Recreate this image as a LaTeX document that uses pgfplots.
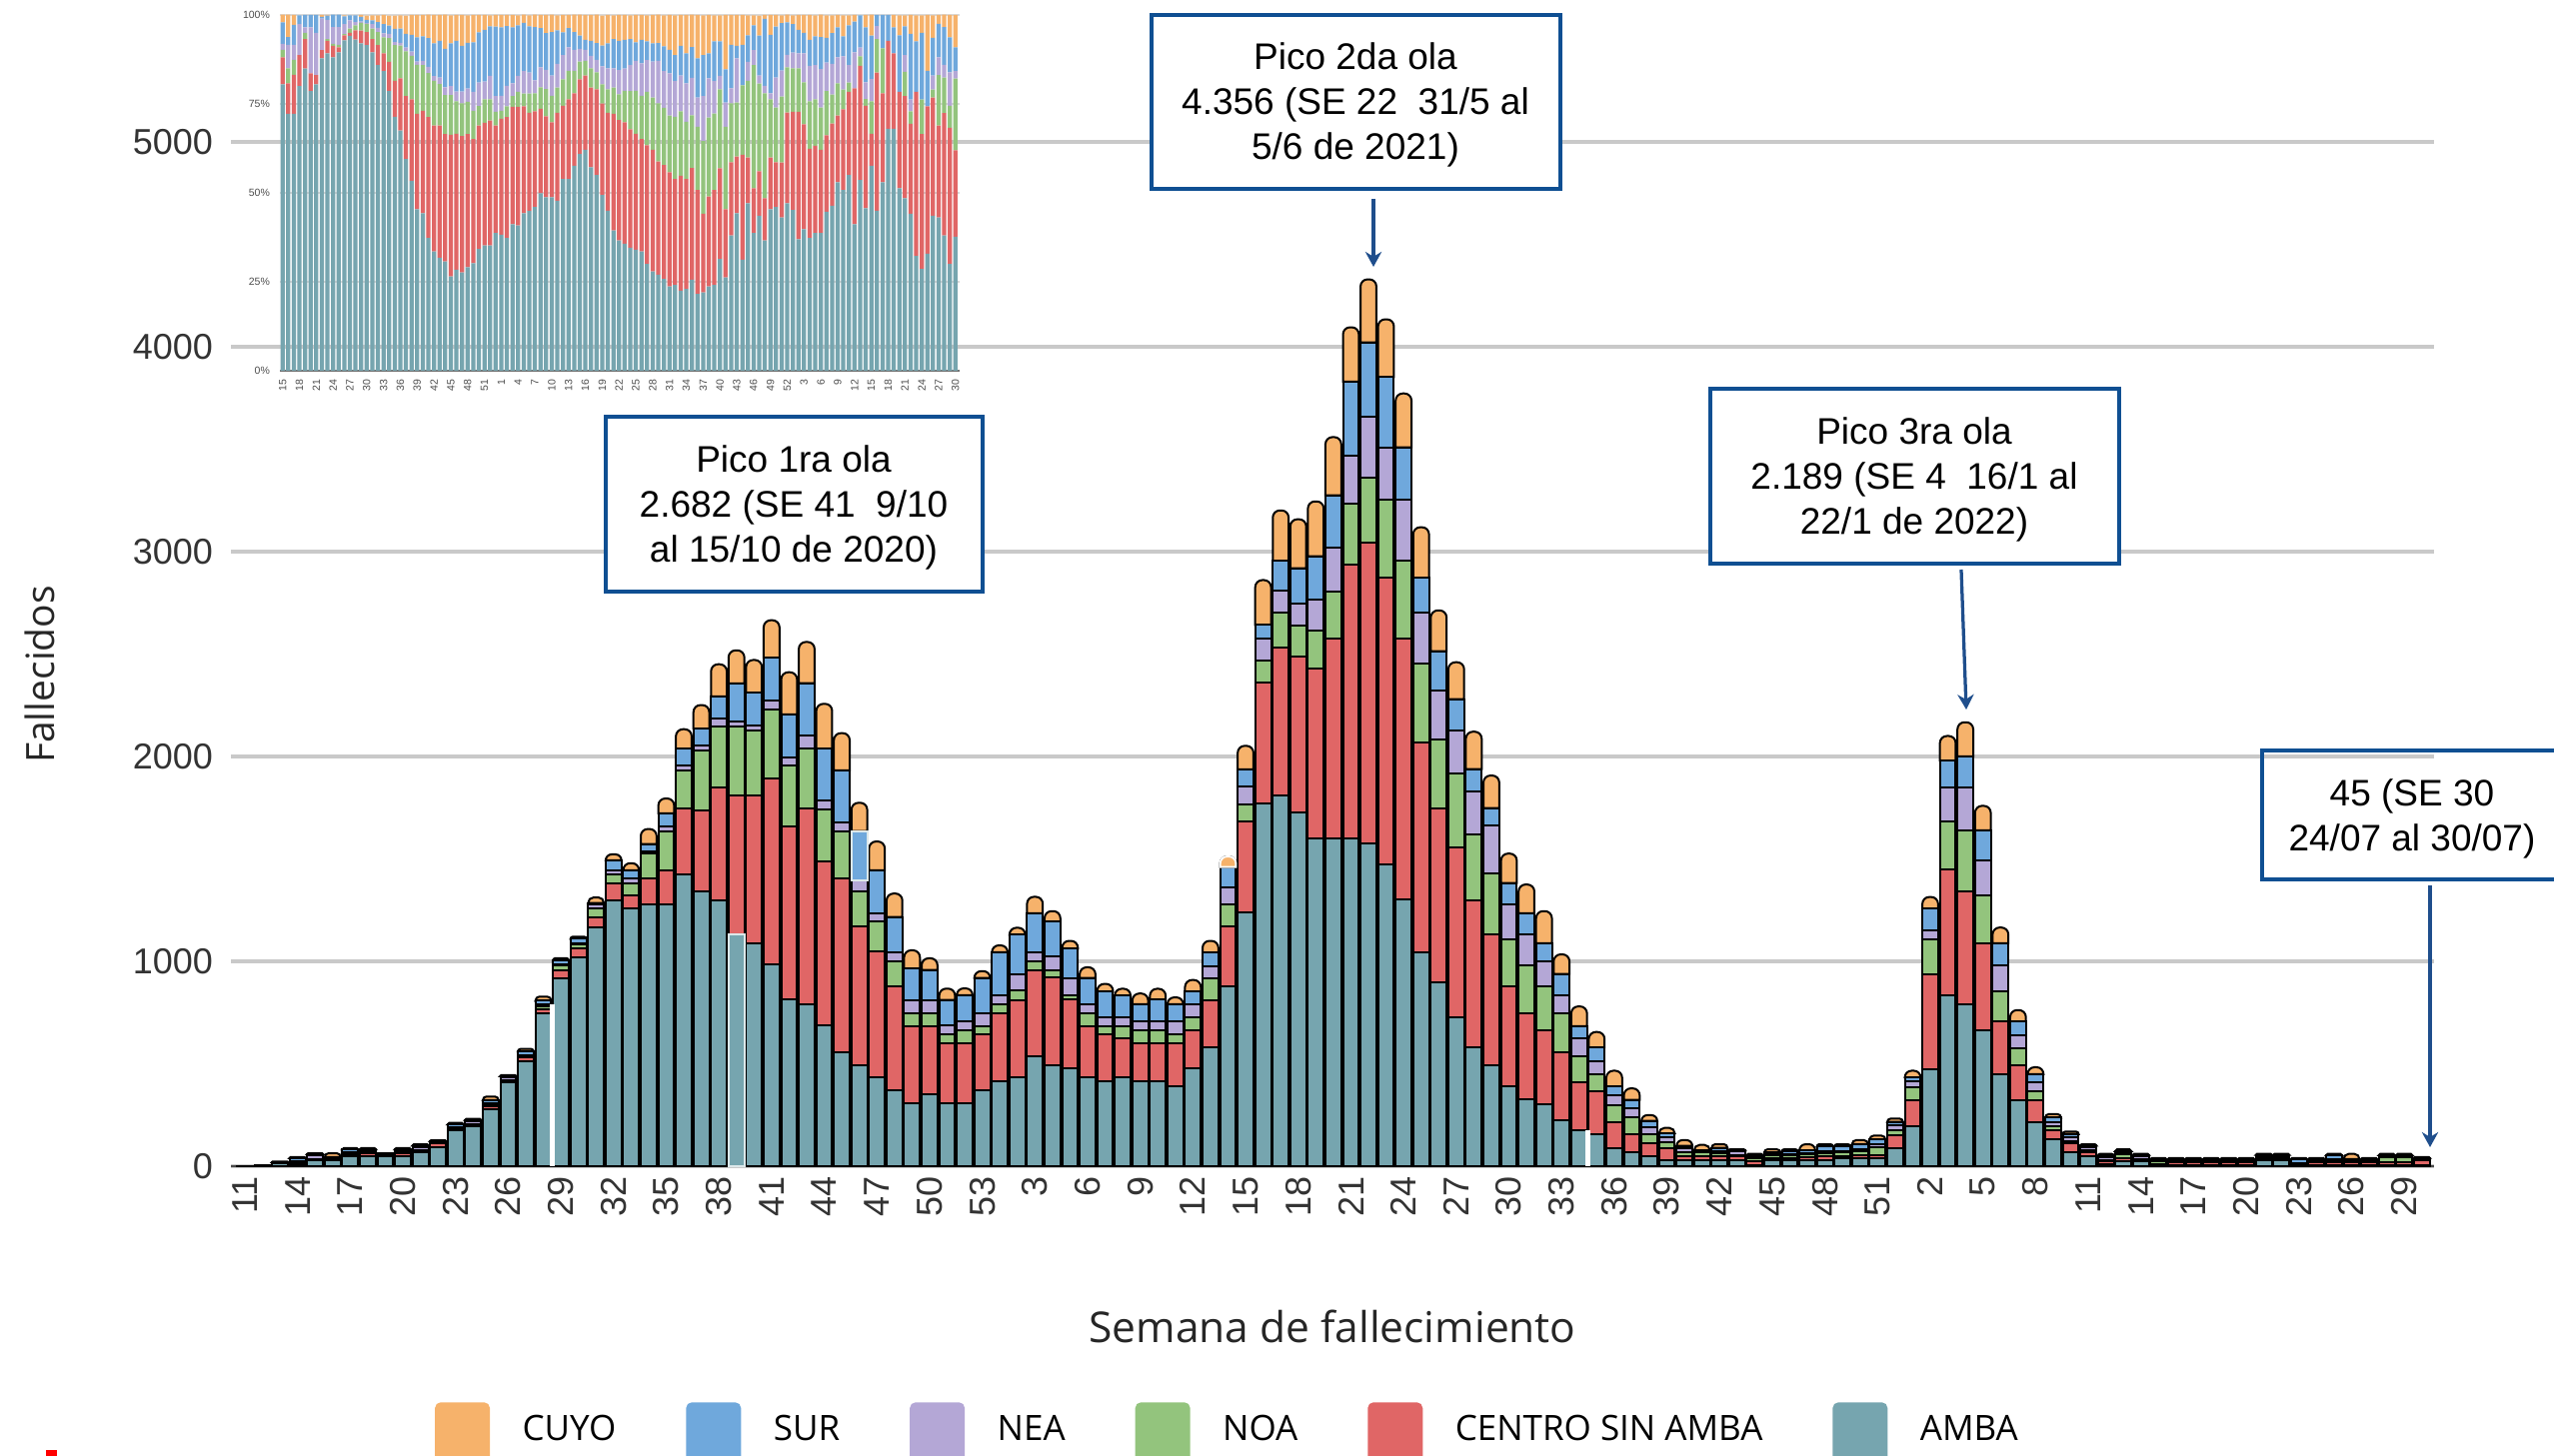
\documentclass[border=0pt]{standalone}
\usepackage{fontspec}
\setmainfont{Liberation Sans}
\newfontfamily\titlefont{Open Sans}
\usepackage{pgfplots}
\usepackage{pgfplotstable}
\pgfplotsset{compat=1.18}
\usetikzlibrary{arrows.meta}
\definecolor{cAMBA}{HTML}{76A5AF}
\definecolor{cCENTRO}{HTML}{E06666}
\definecolor{cNOA}{HTML}{93C47D}
\definecolor{cNEA}{HTML}{B4A7D6}
\definecolor{cSUR}{HTML}{6FA8DC}
\definecolor{cCUYO}{HTML}{F6B26B}
\definecolor{cBox}{HTML}{0F4F92}
\definecolor{cArrow}{HTML}{1F4E8C}
\definecolor{cGrid}{HTML}{C9C9C9}
\definecolor{cLight}{HTML}{DCE8EA}
\makeatletter
\newdimen\RTxl \newdimen\RTxr \newdimen\RTyb \newdimen\RTyt \newdimen\RTr \newdimen\RTk
\newcommand\roundtopbars{\def\pgfpathrectangle##1##2{%
  \pgf@process{##1}\RTxl=\pgf@x \RTyb=\pgf@y
  \pgf@process{##2}\RTxr=\pgf@x \RTyt=\pgf@y
  \advance\RTxr by \RTxl \advance\RTyt by \RTyb
  \ifdim\RTxl>\RTxr \RTk=\RTxl \RTxl=\RTxr \RTxr=\RTk \fi
  \ifdim\RTyb>\RTyt \RTk=\RTyb \RTyb=\RTyt \RTyt=\RTk \fi
  \RTr=2.8pt \RTk=\RTyt \advance\RTk by -\RTyb
  \ifdim\RTk<\RTr \RTr=\RTk \fi
  \RTk=.4477\RTr
  \pgfpathmoveto{\pgfqpoint{\RTxl}{\RTyb}}%
  \pgfpathlineto{\pgfqpoint{\RTxl}{\dimexpr\RTyt-\RTr}}%
  \pgfpathcurveto{\pgfqpoint{\RTxl}{\dimexpr\RTyt-\RTk}}{\pgfqpoint{\dimexpr\RTxl+\RTk}{\RTyt}}{\pgfqpoint{\dimexpr\RTxl+\RTr}{\RTyt}}%
  \pgfpathlineto{\pgfqpoint{\dimexpr\RTxr-\RTr}{\RTyt}}%
  \pgfpathcurveto{\pgfqpoint{\dimexpr\RTxr-\RTk}{\RTyt}}{\pgfqpoint{\RTxr}{\dimexpr\RTyt-\RTk}}{\pgfqpoint{\RTxr}{\dimexpr\RTyt-\RTr}}%
  \pgfpathlineto{\pgfqpoint{\RTxr}{\RTyb}}%
  \pgfpathclose}}
\makeatother
\pgfplotstableread{
i amba centro noa nea sur cuyo
0 2 0 0 0 0 0
1 4 0 0 0 0 0
2 14 4 0 2 0 2
3 10 6 4 4 16 4
4 27 4 4 18 6 4
5 27 5 3 4 6 18
6 50 6 5 6 15 6
7 50 15 5 6 6 6
8 50 3 3 3 2 2
9 50 15 5 5 7 6
10 69 6 4 14 8 6
11 92 18 4 4 4 4
12 178 4 4 4 14 8
13 197 4 4 15 6 5
14 279 12 8 8 15 18
15 409 6 5 15 5 5
16 512 18 6 6 18 12
17 748 18 16 8 18 20
18 916 42 22 6 18 11
19 1021 42 19 6 22 10
20 1168 48 42 19 8 27
21 1298 84 44 19 48 29
22 1258 63 59 27 38 34
23 1277 126 126 8 36 73
24 1277 168 191 23 63 73
25 1426 319 187 25 80 96
26 1340 398 293 25 80 115
27 1298 553 293 42 107 157
28 1130 679 335 29 184 161
29 1088 723 315 23 163 159
30 983 908 338 44 208 184
31 815 845 296 40 210 205
32 792 954 293 65 254 201
33 686 803 252 42 254 220
34 556 847 233 42 254 182
35 495 677 168 57 239 138
36 432 616 145 42 210 140
37 369 507 126 42 172 115
38 308 377 63 63 153 90
39 350 335 63 63 147 57
40 308 294 42 42 126 55
41 308 294 61 44 128 33
42 369 273 42 63 172 33
43 413 335 44 42 210 34
44 432 379 46 82 191 34
45 537 421 44 42 191 80
46 495 425 38 67 168 52
47 476 338 19 86 143 38
48 432 252 63 44 128 52
49 413 229 42 44 124 38
50 432 191 61 44 105 33
51 413 187 61 44 86 52
52 413 187 61 44 109 52
53 388 212 42 63 86 33
54 476 185 67 63 61 57
55 579 231 105 61 67 57
56 876 296 105 82 101 52
57 1238 445 83 86 85 115
58 1770 592 106 109 65 219
59 1809 724 170 108 145 245
60 1727 763 147 109 173 239
61 1601 826 189 152 210 267
62 1601 976 230 214 254 284
63 1601 1334 297 234 364 265
64 1575 1470 315 297 364 308
65 1473 1399 382 255 343 282
66 1304 1273 379 300 253 263
67 1044 1025 384 250 169 247
68 897 851 336 239 191 199
69 728 829 360 211 152 180
70 579 719 320 213 108 182
71 495 635 297 234 87 159
72 390 486 231 170 105 144
73 327 421 233 149 105 140
74 304 358 214 126 86 157
75 222 334 192 86 105 95
76 178 231 128 86 61 96
77 154 212 84 63 67 75
78 90 126 83 47 42 78
79 70 84 83 46 41 56
80 48 62 44 37 30 28
81 27 60 28 25 20 27
82 27 21 22 20 9 28
83 27 21 22 4 3 27
84 27 21 17 9 16 17
85 27 21 6 17 6 5
86 5 20 15 5 8 7
87 27 13 12 5 10 15
88 27 13 12 5 15 10
89 27 15 15 8 12 30
90 27 20 18 10 22 10
91 38 10 18 8 22 11
92 38 15 20 10 25 19
93 38 15 42 10 25 19
94 90 59 25 25 17 16
95 194 127 62 33 17 33
96 471 467 169 42 108 57
97 834 614 234 167 131 120
98 789 552 296 212 151 167
99 662 426 235 168 149 119
100 450 256 148 127 107 77
101 324 168 86 61 67 56
102 216 108 42 42 42 33
103 132 42 20 22 21 17
104 70 40 14 16 17 12
105 48 22 6 18 7 6
106 8 14 6 14 8 10
107 25 15 20 6 8 8
108 25 6 5 14 5 5
109 4 5 14 5 6 6
110 5 15 5 5 5 5
111 5 15 5 5 5 5
112 5 15 5 5 5 5
113 5 15 5 5 5 5
114 5 15 5 5 5 5
115 27 8 5 5 10 5
116 27 5 5 5 13 5
117 3 5 3 4 20 5
118 5 15 5 5 5 5
119 5 15 5 8 20 7
120 5 15 5 5 5 25
121 5 15 5 5 5 5
122 5 15 22 6 6 6
123 5 15 22 6 6 6
124 5 22 5 5 4 4
}\maintable
\pgfplotstableread{
j amba centro noa nea sur cuyo
0 80.5 7.6 2.1 1.7 6.0 2.2
1 72.2 8.6 4.2 6.6 2.2 6.3
2 72.2 11.0 4.2 4.2 5.6 2.8
3 80.0 8.7 0 8.7 2.5 0
4 84.9 8.3 1.8 1.5 3.5 0
5 78.6 5.0 0 12.9 3.5 0
6 80.5 2.6 0 11.9 5.0 0
7 87.8 2.3 0 8.9 0.5 0.5
8 89.2 3.5 0.5 5.4 1.2 0.2
9 88.1 3.2 0.6 4.7 3.5 0
10 89.5 1.4 0.7 5.0 3.5 0
11 92.9 1.4 0.3 2.8 2.2 0.3
12 94.1 0.9 1.2 2.3 1.4 0
13 93.1 2.6 1.4 0.9 1.9 0
14 92.0 3.6 2.2 0.3 1.4 0.5
15 91.5 3.7 2.3 0.2 0.9 1.2
16 89.5 3.7 3.0 1.2 1.1 1.4
17 85.9 5.6 3.7 1.2 1.6 1.9
18 84.2 5.0 4.5 1.1 2.6 2.6
19 78.6 8.2 6.7 1.2 2.3 2.8
20 71.4 10.1 10.0 0.9 3.7 3.7
21 67.5 14.7 9.2 0.8 4.0 3.7
22 59.5 17.7 12.6 1.0 3.9 5.1
23 53.4 22.9 12.2 1.2 4.7 5.6
24 45.4 26.8 13.8 0.9 6.8 6.3
25 44.3 28.8 12.8 1.2 6.9 6.0
26 37.3 34.0 12.4 1.7 8.1 6.6
27 33.5 35.4 12.6 1.3 9.2 8.0
28 31.8 37.1 11.7 1.8 10.3 7.3
29 30.7 35.8 11.0 2.2 10.8 9.6
30 26.5 39.8 11.2 2.5 12.0 7.9
31 28.4 38.2 9.1 2.8 14.2 7.3
32 27.6 38.4 9.2 3.3 12.8 8.7
33 29.1 37.4 9.1 3.7 12.9 7.7
34 30.2 34.9 8.0 5.3 13.9 7.7
35 34.2 34.7 5.5 6.6 14.1 4.9
36 35.2 34.5 6.6 5.0 14.5 4.2
37 35.2 35.1 6.0 6.6 13.9 3.1
38 38.7 30.2 3.9 4.4 19.5 3.3
39 38.2 32.6 2.3 4.2 19.2 3.5
40 37.3 34.0 3.0 5.8 16.8 3.1
41 41.2 33.0 3.0 3.6 15.7 3.5
42 40.8 33.4 4.2 4.5 14.2 2.8
43 44.3 30.0 3.6 6.3 13.6 2.3
44 44.9 27.6 5.4 5.9 13.0 3.1
45 46.0 26.9 5.1 3.6 15.0 3.5
46 49.9 23.7 6.1 5.6 11.0 3.7
47 48.8 22.7 7.7 5.4 10.3 5.1
48 48.8 21.0 7.5 5.7 12.2 4.9
49 47.8 24.7 7.1 6.7 9.4 4.2
50 53.9 20.6 7.4 6.8 6.4 4.9
51 53.9 22.4 8.0 6.6 5.4 3.7
52 57.6 20.4 6.3 5.9 5.0 4.9
53 60.9 21.0 5.0 3.6 3.7 5.9
54 62.1 20.9 4.1 3.1 2.8 7.0
55 57.2 22.4 5.4 3.5 4.2 7.3
56 55.0 24.1 4.8 3.5 4.7 8.0
57 49.4 25.7 5.4 5.1 5.8 8.4
58 45.0 27.5 6.6 5.9 7.0 8.0
59 39.4 32.8 7.4 5.4 8.2 6.7
60 36.6 33.9 7.2 6.8 8.2 7.3
61 35.7 34.1 8.9 6.2 8.1 7.0
62 34.6 33.3 10.7 7.3 7.3 6.7
63 34.0 32.6 12.1 8.4 5.2 7.7
64 33.5 31.6 12.2 9.1 6.6 7.0
65 30.0 33.4 15.0 8.9 5.3 7.3
66 27.9 34.2 14.7 10.1 5.1 8.0
67 27.0 31.8 16.4 11.9 5.0 8.0
68 25.8 32.0 16.1 10.3 7.0 8.7
69 23.7 32.1 15.9 11.9 6.6 9.8
70 24.1 29.8 17.5 10.0 7.3 11.2
71 22.5 32.3 18.1 10.1 8.3 8.7
72 23.0 30.9 16.1 10.8 8.4 10.8
73 25.6 31.4 14.8 10.5 8.7 9.1
74 21.6 29.2 17.8 8.2 11.0 12.2
75 22.0 22.1 20.5 12.6 11.5 11.2
76 23.7 25.3 22.2 11.0 7.0 10.8
77 24.1 26.7 21.5 9.1 11.2 7.3
78 31.4 25.5 22.2 3.8 9.7 7.3
79 26.2 19.2 23.2 6.8 9.3 15.3
80 38.0 20.6 16.6 4.2 12.2 8.4
81 44.3 15.9 15.2 12.4 3.5 8.7
82 31.2 29.5 19.5 0 11.4 8.4
83 47.1 12.8 21.6 5.3 7.5 5.6
84 38.7 12.6 34.6 4.2 7.0 2.8
85 43.6 12.5 24.6 2.3 11.2 5.6
86 36.6 11.9 29.5 2.1 18.8 1.1
87 45.4 14.5 16.4 1.7 16.4 5.6
88 46.0 12.6 15.4 8.4 14.3 3.3
89 43.1 15.4 18.6 7.3 13.3 2.2
90 47.1 25.5 12.7 3.5 9.1 2.2
91 45.2 27.6 12.2 4.4 8.0 2.5
92 37.0 35.8 12.2 4.2 6.6 4.2
93 39.8 29.5 11.8 8.1 5.8 5.0
94 37.3 25.1 13.3 10.0 7.3 7.0
95 38.7 24.5 13.1 9.6 8.1 5.9
96 38.7 23.4 11.9 10.8 9.0 6.3
97 44.7 21.5 12.4 8.0 7.0 6.3
98 46.4 23.1 8.1 8.7 8.6 5.0
99 53.0 18.7 9.1 7.3 8.4 3.5
100 50.8 22.7 5.5 9.4 5.6 5.9
101 55.0 23.4 2.6 4.9 11.2 2.8
102 41.2 38.2 0 10.1 8.6 1.9
103 53.6 32.1 2.7 2.4 9.1 0
104 45.7 28.8 1.9 4.7 15.4 3.5
105 57.6 9.0 9.1 6.3 12.2 5.9
106 45.0 38.8 9.4 3.7 3.1 0
107 53.0 25.0 12.6 0 9.4 0
108 68.0 24.7 0 0 7.3 0
109 68.0 21.2 0 0 7.3 3.5
110 51.3 27.1 0 0 15.9 5.6
111 48.5 28.7 6.8 4.7 8.1 3.1
112 44.1 25.3 3.5 3.3 18.5 5.3
113 32.3 46.1 0 0 14.2 7.3
114 28.6 37.9 9.7 0 18.8 4.9
115 32.9 41.4 0 0 10.0 15.7
116 43.6 33.2 2.2 4.0 10.6 6.3
117 43.1 25.8 14.2 5.0 9.4 2.5
118 38.0 34.4 10.0 3.6 10.6 3.5
119 30.0 38.3 6.2 9.4 9.8 6.3
120 37.7 24.3 20.1 2.1 6.7 9.1
}\insettable
\pgfplotsset{
  swatch/.style={legend image code/.code={\fill[#1,rounded corners=2pt] (0pt,-12.5pt) rectangle (21.2pt,10.5pt);}},
  retouch/.style={at={(mainO)},anchor=south west,scale only axis,width=881.6pt,height=410pt,
    xmin=-0.797,xmax=124.7,ymin=0,ymax=5000,hide axis,bar width=6.32pt},
}
\begin{document}
\begin{tikzpicture}
\begin{scope}[x=0.4pt,y=-0.4pt]
  \coordinate (mainO) at (231,1167);
  \coordinate (insetO) at (280,371);
\end{scope}
\begin{axis}[
  at={(mainO)},anchor=south west,
  scale only axis,width=881.6pt,height=410pt,
  ybar stacked,bar width=6.32pt,
  xmin=-0.797,xmax=124.7,ymin=0,ymax=5000,
  axis x line=bottom,axis y line=left,
  axis line style={-},
  y axis line style={draw=none},
  x axis line style={draw=black!70,line width=1pt},
  major tick length=0pt,
  ytick={0,1000,2000,3000,4000,5000},
  ymajorgrids,
  grid style={line width=1.5pt,cGrid},
  xtick={0,3,...,123},
  xticklabels={11,14,17,20,23,26,29,32,35,38,41,44,47,50,53,3,6,9,12,15,18,21,24,27,30,33,36,39,42,45,48,51,2,5,8,11,14,17,20,23,26,29},
  tick label style={/pgf/number format/assume math mode=true,/pgf/number format/1000 sep={},font=\fontsize{14.4}{16}\selectfont,text=black!80},
  xticklabel style={rotate=90,anchor=east,xshift=-0.5pt},
  yticklabel style={xshift=-3.7pt},
  reverse legend,
  legend columns=6,
  legend cell align=left,
  legend style={at={(0.0926,-0.2595)},anchor=west,draw=none,fill=none,inner sep=0pt,outer sep=0pt,
    font=\titlefont\fontsize{14}{16}\selectfont,
    /tikz/every even column/.append style={column sep=26pt},
    /tikz/every odd column/.append style={column sep=11pt}},
  every axis plot/.append style={draw=black,line width=0.8pt},
]
\addplot[fill=cAMBA,swatch=cAMBA] table[x=i,y=amba]{\maintable};\addlegendentry{AMBA}
\addplot[fill=cCENTRO,swatch=cCENTRO] table[x=i,y=centro]{\maintable};\addlegendentry{CENTRO SIN AMBA}
\addplot[fill=cNOA,swatch=cNOA] table[x=i,y=noa]{\maintable};\addlegendentry{NOA}
\addplot[fill=cNEA,swatch=cNEA] table[x=i,y=nea]{\maintable};\addlegendentry{NEA}
\addplot[fill=cSUR,swatch=cSUR] table[x=i,y=sur]{\maintable};\addlegendentry{SUR}
\addplot[fill=cCUYO,swatch=cCUYO,/utils/exec={\roundtopbars}] table[x=i,y=cuyo]{\maintable};\addlegendentry{CUYO}
\end{axis}
% small retouches visible in the reference: pale outlines and white slits
\begin{axis}[retouch,ybar,bar shift=0pt]
\addplot[fill=cAMBA,draw=cLight,line width=0.8pt] coordinates {(28,1130)};
\addplot[fill=white,draw=none,bar width=2pt] coordinates {(17.5,790)};
\addplot[fill=white,draw=none,bar width=2pt] coordinates {(76.5,175)};
\end{axis}
\begin{axis}[retouch,ybar stacked]
\addplot[draw=none,fill=none] coordinates {(35,1397)};
\addplot[fill=cSUR,draw=cLight,line width=0.8pt] coordinates {(35,239)};
\end{axis}
\begin{axis}[retouch,ybar stacked]
\addplot[draw=none,fill=none] coordinates {(56,1460)};
\addplot[fill=cCUYO,draw=white,line width=0.8pt,/utils/exec={\roundtopbars}] coordinates {(56,52)};
\end{axis}
\begin{axis}[
  at={(insetO)},anchor=south west,
  scale only axis,width=272pt,height=142.4pt,
  ybar stacked,bar width=1.7pt,
  xmin=-0.48,xmax=120.75,ymin=0,ymax=100,
  axis x line=bottom,axis y line=left,
  axis line style={-},
  y axis line style={draw=none},
  x axis line style={draw=black!55,line width=0.5pt},
  major tick length=0pt,
  ytick={0,25,50,75,100},
  yticklabels={0\%,25\%,50\%,75\%,100\%},
  ymajorgrids,
  grid style={line width=0.5pt,black!15},
  xtick={0,3,...,120},
  xticklabels={15,18,21,24,27,30,33,36,39,42,45,48,51,1,4,7,10,13,16,19,22,25,28,31,34,37,40,43,46,49,52,3,6,9,12,15,18,21,24,27,30},
  tick label style={font=\fontsize{4.2}{5}\selectfont,text=black!70},
  xticklabel style={rotate=90,anchor=east},
  yticklabel style={xshift=-0.5pt},
  every axis plot/.append style={draw=none},
]
\addplot[fill=cAMBA] table[x=j,y=amba]{\insettable};
\addplot[fill=cCENTRO] table[x=j,y=centro]{\insettable};
\addplot[fill=cNOA] table[x=j,y=noa]{\insettable};
\addplot[fill=cNEA] table[x=j,y=nea]{\insettable};
\addplot[fill=cSUR] table[x=j,y=sur]{\insettable};
\addplot[fill=cCUYO] table[x=j,y=cuyo]{\insettable};
\end{axis}
\begin{scope}[x=0.4pt,y=-0.4pt]
  \tikzset{callout/.style={draw=cBox,line width=1.4pt},
    callouttext/.style={align=center,font=\fontsize{14.8}{18}\selectfont,text=black},
    pointer/.style={draw=cArrow,line width=1.3pt,-{Stealth[length=6pt,width=6.5pt]}}}
  \draw[callout,fill=white] (606,417) rectangle (983,592);
  \node[callouttext] at (794,508) {Pico 1ra ola\\2.682 (SE 41\ \ 9/10\\al 15/10 de 2020)};
  \draw[callout,fill=white] (1152,15) rectangle (1561,189);
  \node[callouttext] at (1356,105) {Pico 2da ola\\4.356 (SE 22\ \ 31/5 al\\5/6 de 2021)};
  \draw[callout,fill=white] (1711,389) rectangle (2120,564);
  \node[callouttext] at (1915,480) {Pico 3ra ola\\2.189 (SE 4\ \ 16/1 al\\22/1 de 2022)};
  \draw[callout] (2263,751) rectangle (2580,880);
  \node[callouttext] at (2413,819) {45 (SE 30\\24/07 al 30/07)};
  \draw[pointer] (1374,199) -- (1374,267);
  \draw[pointer] (1962,570) -- (1967,710);
  \draw[pointer] (2431,886) -- (2431,1148);
  \node[font=\titlefont\fontsize{17}{20}\selectfont,text=black!85] at (1333,1327) {Semana de fallecimiento};
  \node[font=\titlefont\fontsize{15.6}{20}\selectfont,text=black!85,rotate=90] at (40,675) {Fallecidos};
  \fill[red] (46,1451) rectangle (57,1460);
  \pgfresetboundingbox
  \path[use as bounding box] (0,0) rectangle (2555,1457);
\end{scope}
\end{tikzpicture}
\end{document}
